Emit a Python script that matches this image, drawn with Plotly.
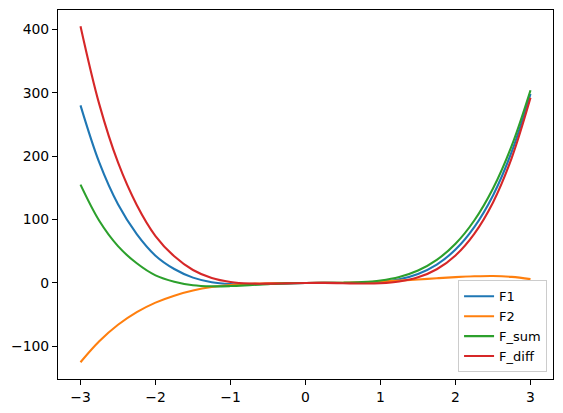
import plotly.graph_objects as go

# values
x = [-3.0, -2.75, -2.5, -2.25, -2.0, -1.75, -1.5, -1.25, -1.0, -0.75, -0.5, -0.25,
     0.0, 0.25, 0.5, 0.75, 1.0, 1.25, 1.5, 1.75, 2.0, 2.25, 2.5, 2.75, 3.0]
f1 = [280, 190, 124, 77, 43, 22, 8.4, 1.2, -1.7, -2.2, -1.5, -0.6,
      0, 0.15, 0.0, 0.2, 1.7, 5.8, 14.2, 29, 52.6, 88, 138, 207, 298]
f2 = [-125, -92, -66, -46, -31, -20, -12, -6.5, -3.2, -1.3, -0.4, 0,
      0, 0.1, 0.4, 1.1, 2.2, 3.6, 5.4, 7.4, 9.2, 10.5, 11, 9.6, 6]
f_sum = [155, 98, 58, 31, 12, 2, -3.6, -5.3, -4.9, -3.5, -1.9, -0.6,
         0, 0.25, 0.4, 1.3, 3.9, 9.4, 19.6, 36.4, 61.8, 98.5, 149, 216.6, 304]
f_diff = [405, 282, 190, 123, 74, 42, 20.4, 7.7, 1.5, -0.9, -1.1, -0.6,
          0, 0.05, -0.4, -0.9, -0.5, 2.2, 8.8, 21.6, 43.4, 77.5, 127, 197.4, 292]

series = [("F1", f1, "#1f77b4"), ("F2", f2, "#ff7f0e"),
          ("F_sum", f_sum, "#2ca02c"), ("F_diff", f_diff, "#d62728")]

fig = go.Figure()
for name, ys, col in series:
    fig.add_trace(go.Scatter(x=x, y=ys, mode="lines", name=name,
                             line=dict(color=col, width=2.1, shape="spline")))

axis_style = dict(showgrid=False, zeroline=False, showline=True, mirror=True,
                  linecolor="black", linewidth=1.1, ticks="outside", ticklen=5,
                  tickwidth=1.1, tickcolor="black", automargin=False,
                  tickfont=dict(family="DejaVu Sans", size=13.9, color="black"))

# the page body adds 8px, so the figure is a little smaller than the window
fig.update_layout(
    width=555, height=405,
    margin=dict(l=50, r=10, t=2, b=34),
    paper_bgcolor="white", plot_bgcolor="white",
    font=dict(family="DejaVu Sans", size=13.9, color="black"),
    xaxis=dict(range=[-3.3, 3.3], tickmode="linear", tick0=-3, dtick=1, **axis_style),
    yaxis=dict(range=[-151.5, 430.5], tickmode="linear", tick0=-100, dtick=100, **axis_style),
    legend=dict(x=0.988, y=0.018, xanchor="right", yanchor="bottom",
                bgcolor="rgba(255,255,255,0.8)", bordercolor="#cccccc", borderwidth=1,
                itemwidth=30, tracegroupgap=0,
                font=dict(family="DejaVu Sans", size=13, color="black")),
    showlegend=True,
)

fig.write_html("out.html")
